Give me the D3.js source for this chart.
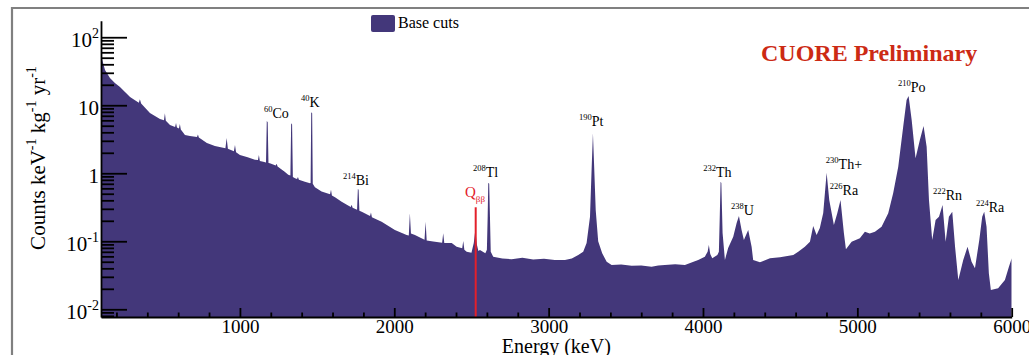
<!DOCTYPE html>
<html><head><meta charset="utf-8">
<script src="https://cdn.jsdelivr.net/npm/d3@7"></script>
<style>
body{margin:0;background:#fff;}
svg{display:block;font-family:"Liberation Serif","Times New Roman",serif;}
</style></head><body>
<svg id="c" width="1029" height="355"></svg>
<script>
// ---- data ----
const energyKeV = [100,113,126,158,190,223,288,345,352,360,417,482,508,514,520,547,580,586,592,605,611,617,644,676,722,728,734,786,838,906,914,922,961,968,975,1000,1050,1097,1117,1123,1129,1151,1169,1174,1180,1185,1194,1232,1238,1244,1290,1313,1327,1332,1338,1343,1357,1370,1376,1382,1421,1454,1458,1462,1468,1472,1486,1529,1584,1590,1596,1616,1659,1718,1724,1730,1759,1764,1769,1774,1789,1843,1849,1855,1918,2004,2080,2094,2101,2108,2134,2196,2203,2210,2252,2310,2317,2324,2372,2404,2440,2447,2454,2469,2500,2515,2525,2535,2545,2555,2590,2600,2605,2609,2615,2619,2625,2641,2700,2760,2830,2900,2970,3040,3106,3150,3192,3224,3246,3268,3279,3287,3295,3305,3321,3347,3376,3408,3470,3538,3600,3667,3710,3753,3820,3883,3930,3969,4012,4030,4038,4047,4060,4093,4103,4109,4114,4119,4123,4127,4142,4163,4196,4218,4233,4250,4265,4293,4315,4325,4369,4434,4499,4585,4617,4660,4693,4714,4736,4757,4779,4801,4818,4848,4870,4891,4913,4926,4963,5016,5049,5080,5114,5157,5200,5232,5265,5297,5319,5332,5352,5377,5405,5429,5449,5464,5485,5507,5529,5552,5572,5593,5615,5633,5654,5686,5714,5740,5762,5790,5809,5822,5837,5852,5865,5912,5956,5982,6000];
const countsRate = [55,42,33,25.2,21.3,18.6,13.2,10.9,12.2,10.6,7.7,6.3,6.0,7.6,5.9,5.13,4.8,5.5,4.7,4.55,5.3,4.4,3.66,3.54,3.42,3.7,3.35,2.79,2.52,2.33,3.3,2.3,2.1,2.61,2.03,1.86,1.72,1.58,1.56,1.86,1.52,1.48,1.44,5.87,5.6,1.42,1.40,1.30,1.38,1.26,1.05,0.95,0.93,5.43,5.2,0.88,0.844,0.82,0.88,0.8,0.752,0.713,0.72,7.89,7.6,0.70,0.622,0.537,0.49,0.57,0.47,0.443,0.382,0.32,0.345,0.31,0.29,0.588,0.57,0.28,0.272,0.235,0.265,0.225,0.194,0.147,0.124,0.122,0.258,0.13,0.124,0.105,0.194,0.103,0.099,0.095,0.131,0.094,0.094,0.083,0.079,0.101,0.075,0.0703,0.068,0.094,0.147,0.09,0.072,0.0745,0.0666,0.075,0.23,0.727,0.7,0.28,0.07,0.0594,0.056,0.0545,0.057,0.054,0.0555,0.053,0.0531,0.056,0.0629,0.0703,0.0944,0.23,1.25,3.87,1.25,0.289,0.1,0.0666,0.0501,0.0448,0.0455,0.0437,0.044,0.0423,0.044,0.0448,0.046,0.0448,0.049,0.0531,0.0594,0.07,0.0882,0.065,0.0562,0.0629,0.07,0.25,0.752,0.72,0.3,0.132,0.0531,0.0797,0.117,0.186,0.236,0.147,0.1045,0.147,0.0833,0.0531,0.0491,0.0562,0.0582,0.0629,0.0703,0.0833,0.0987,0.168,0.124,0.157,0.261,1.02,0.405,0.174,0.258,0.405,0.131,0.0762,0.0987,0.111,0.138,0.13,0.138,0.164,0.258,0.508,1.25,4.84,11.97,13.7,6.08,1.66,3.09,4.96,2.46,0.405,0.1045,0.206,0.23,0.342,0.0987,0.23,0.272,0.0833,0.027,0.0531,0.0833,0.0501,0.0401,0.1045,0.23,0.272,0.164,0.0338,0.0192,0.0204,0.027,0.0423,0.0562];
const xMajorTicks = [1000,2000,3000,4000,5000,6000];
const xTickLabels = ["1000","2000","3000","4000","5000","6000"];
const yMajorTicks = [0.01,0.1,1,10,100];
const yTickBase = ["10","10","1","10","10"];
const yTickExp  = ["-2","-1","","","2"];
const peakIso = ["60","40","214","208","190","232","238","230","226","210","222","224"];
const peakSym = ["Co","K","Bi","Tl","Pt","Th","U","Th+","Ra","Po","Rn","Ra"];
const peakLabelE = [1156,1395,1667,2510,3196,4001,4181,4796,4822,5263,5490,5768];
const peakLabelV = [6.5,9.44,0.673,0.873,4.96,0.891,0.244,1.145,0.48,15.85,0.405,0.272];
const qbbE = 2527.5, qbbTop = 0.316, qbbLabelE = 2458, qbbLabelV = 0.448;
const legendLabel = "Base cuts";
const titleText = "CUORE Preliminary";

// ---- drawing ----
const svg = d3.select("#c");
const purple = "#43377a";
const red = "#e3202a";
const x = d3.scaleLinear().domain([100,6000]).range([101,1011.7]);
const y = d3.scaleLog().domain([0.0077,175]).range([317,20.7]);
const [yb, yt] = y.range();

// frame
svg.append("path").attr("d","M12,355V8H1029").attr("fill","none").attr("stroke","#808080").attr("stroke-width",2.2);

svg.append("clipPath").attr("id","pc").append("rect")
  .attr("x",x.range()[0]).attr("y",yt).attr("width",x.range()[1]-x.range()[0]).attr("height",yb-yt);

const pts = energyKeV.map((e,i)=>[e,countsRate[i]]);
const area = d3.area().x(d=>x(d[0])).y0(yb).y1(d=>y(d[1]));
svg.append("path").datum(pts).attr("d",area).attr("fill",purple).attr("clip-path","url(#pc)");

// Q beta beta line
svg.append("line").attr("x1",x(qbbE)).attr("x2",x(qbbE)).attr("y1",yb).attr("y2",y(qbbTop))
  .attr("stroke",red).attr("stroke-width",2);

// axes
function styleAxis(g){
  g.selectAll(".domain").attr("stroke","#000").attr("stroke-width",1.8);
  g.selectAll(".tick line").attr("stroke","#000").attr("stroke-width",1.8);
}
const xMinor = d3.range(200,6000,200).filter(v=>v%1000!==0);
const gxm = svg.append("g").attr("transform",`translate(0,${yb})`)
  .call(d3.axisBottom(x).tickValues(xMinor).tickSize(-4.5).tickSizeOuter(0).tickFormat(""));
gxm.select(".domain").remove(); styleAxis(gxm);
const gx = svg.append("g").attr("transform",`translate(0,${yb})`)
  .call(d3.axisBottom(x).tickValues(xMajorTicks).tickSize(-9).tickSizeOuter(0).tickPadding(2.5)
    .tickFormat((d,i)=>xTickLabels[i]));
styleAxis(gx);
gx.selectAll("text").attr("font-family","Liberation Serif").attr("font-size",19).attr("fill","#000");
gx.attr("font-family",null).attr("font-size",null);

const yMinor = [];
[0.001,0.01,0.1,1,10,100].forEach(dec=>{for(let k=2;k<=9;k++){const v=dec*k; if(v>=0.0077&&v<=175) yMinor.push(v);}});
const gym = svg.append("g").attr("transform",`translate(${x.range()[0]},0)`)
  .call(d3.axisLeft(y).tickValues(yMinor).tickSize(-13).tickSizeOuter(0).tickFormat(""));
gym.select(".domain").remove(); styleAxis(gym);
const gy = svg.append("g").attr("transform",`translate(${x.range()[0]},0)`)
  .call(d3.axisLeft(y).tickValues(yMajorTicks).tickSize(-26).tickSizeOuter(0).tickFormat(""));
styleAxis(gy);

yMajorTicks.forEach((t,i)=>{
  const tx = svg.append("text").attr("x",x.range()[0]-2).attr("y",y(t)+10)
    .attr("text-anchor","end").attr("font-size",21).attr("fill","#000");
  tx.append("tspan").text(yTickBase[i]);
  if(yTickExp[i]) tx.append("tspan").attr("font-size",14).attr("dy",-9).text(yTickExp[i]);
});

// axis titles
svg.append("text").attr("x",(x.range()[0]+x.range()[1])/2).attr("y",353)
  .attr("text-anchor","middle").attr("font-size",20).text("Energy (keV)");
const yt_ = svg.append("text").attr("transform","translate(45,158) rotate(-90)")
  .attr("text-anchor","middle").attr("font-size",21);
[["Counts keV",""],["-1","s"],[" kg",""],["-1","s"],[" yr",""],["-1","s"]].forEach(([s,k],i)=>{
  const ts = yt_.append("tspan").text(s);
  if(k==="s") ts.attr("font-size",14).attr("dy",-9);
  else if(i>0) ts.attr("dy",9);
});

// legend
svg.append("rect").attr("x",371).attr("y",15).attr("width",24).attr("height",17).attr("rx",2).attr("fill",purple);
svg.append("text").attr("x",398).attr("y",28).attr("font-size",16).text(legendLabel);

// title
svg.append("text").attr("x",761).attr("y",61).attr("font-size",24).attr("font-weight","bold")
  .attr("fill","#cc2a14").text(titleText);

// peak labels
peakSym.forEach((s,i)=>{
  const t = svg.append("text").attr("x",x(peakLabelE[i])).attr("y",y(peakLabelV[i])).attr("fill","#000");
  t.append("tspan").attr("font-size",8.5).attr("dy",-6).text(peakIso[i]);
  t.append("tspan").attr("font-size",14).attr("dy",6).text(s);
});
const q = svg.append("text").attr("x",x(qbbLabelE)).attr("y",y(qbbLabelV)).attr("fill",red);
q.append("tspan").attr("font-size",15).text("Q");
q.append("tspan").attr("font-size",9).attr("dy",5).text("ββ");
</script>
</body></html>
